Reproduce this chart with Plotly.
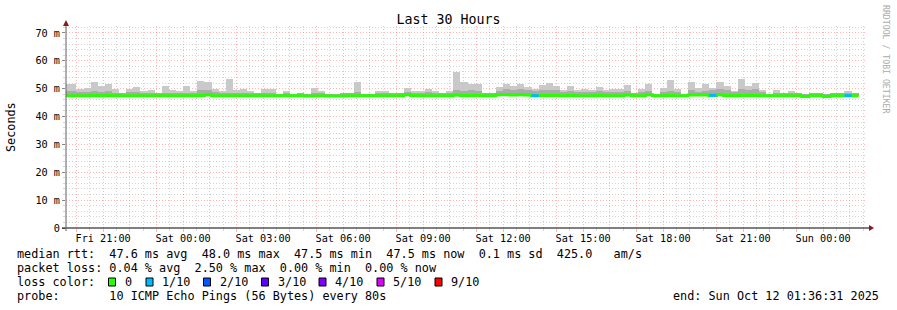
import plotly.graph_objects as go
import pandas as pd

# ---------------- data ----------------
TITLE = "Last 30 Hours"
START_TIME = "2025-10-10 19:36:31"
END_TIME = "2025-10-12 01:36:31"
FIRST_BIN = "2025-10-10 19:28:00"
BIN_SECONDS = 960  # 16-minute consolidation

median_ms = [
    47.5, 47.5, 47.5, 47.5, 47.6, 47.5, 47.6, 47.5, 47.5, 47.5,
    47.5, 47.5, 47.5, 47.5, 47.5, 47.5, 47.5, 47.5, 47.5, 47.6,
    47.8, 47.5, 47.5, 47.5, 47.5, 47.5, 47.5, 47.5, 47.5, 47.5,
    47.5, 47.5, 47.5, 47.5, 47.4, 47.4, 47.5, 47.4, 47.4, 47.4,
    47.5, 47.5, 47.5, 47.5, 47.5, 47.5, 47.5, 47.5, 47.8, 47.6,
    47.5, 47.5, 47.5, 47.5, 47.5, 47.7, 47.6, 47.6, 47.6, 47.5,
    47.5, 47.8, 47.8, 47.7, 47.8, 47.7, 47.5, 47.6, 47.6, 47.6,
    47.5, 47.6, 47.5, 47.5, 47.5, 47.6, 47.5, 47.5, 47.5, 47.7,
    47.5, 47.5, 47.8, 47.5, 47.5, 47.6, 47.5, 47.5, 47.7, 47.7,
    47.7, 47.6, 47.8, 47.6, 47.5, 47.6, 47.6, 47.6, 47.5, 47.5,
    47.5, 47.5, 47.5, 47.5, 47.2, 47.5, 47.5, 47.2, 47.5, 47.5,
    47.5, 47.5,
]

smoke_min = [
    47.3, 47.3, 47.3, 47.3, 47.3, 47.3, 47.3, 47.3, 47.3, 47.3,
    47.3, 47.3, 47.3, 47.3, 47.3, 47.3, 47.3, 47.3, 47.3, 47.3,
    47.4, 47.3, 47.3, 47.3, 47.3, 47.3, 47.3, 47.3, 47.3, 47.3,
    47.3, 47.3, 47.3, 47.3, 47.2, 47.2, 47.3, 47.2, 47.2, 47.2,
    47.3, 47.3, 47.3, 47.3, 47.3, 47.3, 47.3, 47.3, 47.4, 47.3,
    47.3, 47.3, 47.3, 47.3, 47.3, 47.4, 47.3, 47.3, 47.3, 47.3,
    47.3, 47.4, 47.4, 47.4, 47.4, 47.4, 47.3, 47.3, 47.3, 47.3,
    47.3, 47.3, 47.3, 47.3, 47.3, 47.3, 47.3, 47.3, 47.3, 47.4,
    47.3, 47.3, 47.4, 47.3, 47.3, 47.3, 47.3, 47.3, 47.4, 47.4,
    47.4, 47.3, 47.4, 47.3, 47.3, 47.3, 47.3, 47.3, 47.3, 47.3,
    47.3, 47.3, 47.3, 47.3, 47.0, 47.3, 47.3, 47.0, 47.3, 47.3,
    47.3, 47.3,
]

smoke_mid = [
    49.0, 49.0, 48.8, 48.9, 49.2, 48.8, 49.3, 48.6, 48.3, 48.7,
    48.8, 48.6, 48.5, 48.3, 48.6, 48.5, 48.4, 48.6, 48.5, 49.4,
    49.6, 48.7, 48.4, 48.6, 48.5, 48.6, 48.4, 48.3, 48.6, 48.6,
    48.2, 48.4, 48.2, 48.3, 48.2, 48.6, 48.4, 48.2, 48.2, 48.3,
    48.3, 48.8, 48.2, 48.2, 48.4, 48.5, 48.3, 48.3, 48.8, 48.5,
    48.6, 48.9, 48.6, 48.3, 48.5, 49.5, 49.3, 49.4, 49.3, 48.3,
    48.3, 49.2, 49.8, 49.6, 49.8, 49.5, 49.0, 49.6, 49.7, 49.4,
    48.8, 49.2, 48.8, 48.9, 48.7, 49.0, 48.7, 48.9, 48.9, 49.3,
    48.3, 48.8, 49.3, 48.2, 48.8, 49.3, 48.8, 48.2, 49.5, 48.9,
    49.3, 49.5, 50.0, 49.6, 48.8, 49.8, 49.6, 49.8, 48.9, 48.2,
    48.6, 48.3, 48.5, 48.3, 48.2, 48.3, 48.3, 48.2, 48.3, 48.3,
    48.5, 48.3,
]

smoke_max = [
    51.7, 51.7, 49.9, 50.3, 52.4, 51.0, 51.7, 49.9, 48.5, 49.9,
    50.6, 49.3, 49.7, 48.5, 51.0, 49.4, 49.0, 51.0, 49.0, 52.8,
    52.4, 49.9, 49.0, 53.5, 49.7, 49.9, 49.3, 48.5, 50.0, 49.9,
    48.1, 49.0, 48.1, 48.5, 48.1, 50.3, 49.0, 48.1, 48.1, 48.5,
    48.5, 52.4, 48.1, 48.1, 49.0, 49.3, 48.5, 48.5, 50.3, 49.0,
    49.3, 49.9, 49.3, 48.5, 49.0, 56.1, 52.4, 51.7, 51.8, 48.5,
    48.5, 50.6, 51.7, 51.0, 51.7, 50.6, 49.9, 51.3, 52.0, 51.0,
    49.7, 51.0, 49.7, 49.9, 49.7, 50.6, 49.7, 49.9, 49.9, 51.3,
    48.5, 49.9, 51.7, 48.1, 50.3, 53.1, 49.9, 48.1, 52.4, 50.3,
    51.7, 50.3, 52.4, 51.0, 49.3, 53.5, 51.0, 52.0, 49.7, 48.1,
    49.7, 48.5, 49.3, 48.5, 48.1, 48.5, 48.5, 48.1, 48.5, 48.5,
    49.0, 48.5,
]

# lost pings out of 10 per bin
loss_count = [0] * 112
LOSS_BINS = {66: 1, 91: 1, 110: 1}

LOSS_LABELS = ["0", "1/10", "2/10", "3/10", "4/10", "5/10", "9/10"]
LOSS_COLORS = ["#26ff00", "#00b8ff", "#0059ff", "#5e00ff", "#7e00ff", "#dd00ff", "#ff0000"]

Y_TICKS = [0, 10, 20, 30, 40, 50, 60, 70]
Y_TICK_TEXT = ["0", "10 m", "20 m", "30 m", "40 m", "50 m", "60 m", "70 m"]

X_LABEL_TIMES = ["2025-10-10 21:00", "2025-10-11 00:00", "2025-10-11 03:00",
                 "2025-10-11 06:00", "2025-10-11 09:00", "2025-10-11 12:00",
                 "2025-10-11 15:00", "2025-10-11 18:00", "2025-10-11 21:00",
                 "2025-10-12 00:00"]
X_LABELS = ["Fri 21:00", "Sat 00:00", "Sat 03:00", "Sat 06:00", "Sat 09:00",
            "Sat 12:00", "Sat 15:00", "Sat 18:00", "Sat 21:00", "Sun 00:00"]

LEGEND_RTT = "median rtt:  47.6 ms avg  48.0 ms max  47.5 ms min  47.5 ms now  0.1 ms sd  425.0   am/s"
LEGEND_LOSS = "packet loss: 0.04 % avg  2.50 % max  0.00 % min  0.00 % now"
PROBE_TEXT = "probe:       10 ICMP Echo Pings (56 Bytes) every 80s"
END_TEXT = "end: Sun Oct 12 01:36:31 2025"

for b, c in LOSS_BINS.items():
    loss_count[b] = c

# ---------------- geometry helpers ----------------
W, H = 897, 310
L, R, T, B = 66, 31, 26, 82
PW, PH = W - L - R, H - T - B
MONO = "DejaVu Sans Mono"
LEG_SIZE = 11.8


def xp(px):
    return (px - L) / PW


def yp(py):
    return (H - B - py) / PH


n = len(smoke_max)
bin_start = pd.date_range(FIRST_BIN, periods=n + 1, freq=f"{BIN_SECONDS}s")
bin_center = bin_start[:-1] + pd.Timedelta(seconds=BIN_SECONDS / 2)
width_ms = BIN_SECONDS * 1000

fig = go.Figure()

fig.add_trace(go.Bar(
    x=bin_center, base=smoke_min,
    y=[mx - mn for mx, mn in zip(smoke_max, smoke_min)],
    width=width_ms, marker=dict(color="#c9c9c9", line=dict(width=0)),
    hoverinfo="skip", showlegend=False))
fig.add_trace(go.Bar(
    x=bin_center, base=smoke_min,
    y=[md - mn for md, mn in zip(smoke_mid, smoke_min)],
    width=width_ms, marker=dict(color="#ababab", line=dict(width=0)),
    hoverinfo="skip", showlegend=False))

fig.add_trace(go.Scatter(
    x=list(bin_start), y=median_ms + [median_ms[-1]], mode="lines",
    line=dict(color=LOSS_COLORS[0], width=3, shape="hv"),
    hoverinfo="skip", showlegend=False))

for i, lc in enumerate(loss_count):
    if lc > 0:
        fig.add_trace(go.Scatter(
            x=[bin_start[i], bin_start[i + 1]], y=[median_ms[i], median_ms[i]],
            mode="lines", line=dict(color=LOSS_COLORS[lc], width=3),
            hoverinfo="skip", showlegend=False))

hourly = pd.date_range("2025-10-10 20:00", "2025-10-12 01:00", freq="1h")
halfhourly = pd.date_range("2025-10-10 19:30", "2025-10-12 01:30", freq="1h")
lab = {pd.Timestamp(t): s for t, s in zip(X_LABEL_TIMES, X_LABELS)}
xticktext = [lab.get(t, "") for t in hourly]

MAJOR = "rgba(255,110,110,0.5)"
MINOR = "rgba(170,170,170,0.5)"
DASH = "1px,2px"

fig.update_layout(
    width=W, height=H, autosize=False,
    margin=dict(l=L, r=R, t=T, b=B, pad=0),
    paper_bgcolor="white", plot_bgcolor="white",
    barmode="overlay", bargap=0,
    title=dict(text=TITLE, x=0.5, xref="container", xanchor="center",
               y=1 - 19 / H, yref="container", yanchor="middle",
               font=dict(family=MONO, size=13.3, color="#000")),
    xaxis=dict(
        type="date", range=[START_TIME, END_TIME],
        tickmode="array", tickvals=list(hourly), ticktext=xticktext,
        showgrid=True, gridcolor=MAJOR, griddash=DASH, gridwidth=1,
        ticks="outside", ticklen=3, tickcolor=MAJOR, ticklabelstandoff=-2,
        tickfont=dict(family=MONO, size=10.2, color="#000"),
        showline=False, zeroline=False,
        minor=dict(tickmode="array", tickvals=list(halfhourly), showgrid=True,
                   gridcolor=MINOR, griddash=DASH, gridwidth=1,
                   ticks="outside", ticklen=2, tickcolor=MINOR),
    ),
    yaxis=dict(
        range=[0, 72.5], tickmode="array", tickvals=Y_TICKS, ticktext=Y_TICK_TEXT,
        showgrid=True, gridcolor=MAJOR, griddash=DASH, gridwidth=1,
        ticks="outside", ticklen=3, tickcolor="#888888",
        tickfont=dict(family=MONO, size=10.2, color="#000"),
        showline=False, zeroline=False,
        minor=dict(tickmode="array", tickvals=[v for v in range(2, 73, 2) if v % 10],
                   showgrid=True, gridcolor=MINOR, griddash=DASH, gridwidth=1,
                   ticks="outside", ticklen=2, tickcolor=MINOR),
    ),
)

shapes = []
# axes
shapes.append(dict(type="line", xref="paper", yref="paper",
                   x0=xp(62), x1=xp(870), y0=yp(228), y1=yp(228),
                   line=dict(color="#000", width=1)))
shapes.append(dict(type="line", xref="paper", yref="paper",
                   x0=xp(66), x1=xp(66), y0=yp(231), y1=yp(24),
                   line=dict(color="#606060", width=1)))
# arrows
shapes.append(dict(type="path", xref="paper", yref="paper",
                   path=f"M {xp(63)},{yp(26)} L {xp(69)},{yp(26)} L {xp(66)},{yp(20)} Z",
                   fillcolor="#8b1a1a", line=dict(width=0)))
shapes.append(dict(type="path", xref="paper", yref="paper",
                   path=f"M {xp(869)},{yp(225)} L {xp(869)},{yp(231)} L {xp(874)},{yp(228)} Z",
                   fillcolor="#8b1a1a", line=dict(width=0)))

annotations = []


def text_at(px, py, s, size=LEG_SIZE, xanchor="left", color="#000", angle=0):
    annotations.append(dict(
        xref="paper", yref="paper", x=xp(px), y=yp(py), text=s.replace(" ", "\u00a0"),
        showarrow=False, xanchor=xanchor, yanchor="middle", textangle=angle,
        font=dict(family=MONO, size=size, color=color), borderpad=0))


ROW = [254, 268, 282, 296]
text_at(16, ROW[0], LEGEND_RTT)
text_at(16, ROW[1], LEGEND_LOSS)
text_at(16, ROW[2], "loss color:")
box_x = [108.5, 146, 203.5, 261.5, 319, 377, 435]
for bx, lbl, col in zip(box_x, LOSS_LABELS, LOSS_COLORS):
    shapes.append(dict(type="rect", xref="paper", yref="paper",
                       x0=xp(bx), x1=xp(bx + 7), y0=yp(ROW[2] + 4), y1=yp(ROW[2] - 4),
                       fillcolor=col, line=dict(color="#000", width=1)))
    text_at(bx + 15, ROW[2], lbl)
text_at(16, ROW[3], PROBE_TEXT)
text_at(880, ROW[3], END_TEXT, xanchor="right")

# y-axis title and watermark
text_at(11, 127, "Seconds", angle=-90, xanchor="center")
text_at(886, 60, "RRDTOOL / TOBI OETIKER", size=8.2, color="#aaaaaa",
        angle=90, xanchor="center")

fig.update_layout(shapes=shapes, annotations=annotations)

fig.write_html("out.html", config={"displayModeBar": False})
